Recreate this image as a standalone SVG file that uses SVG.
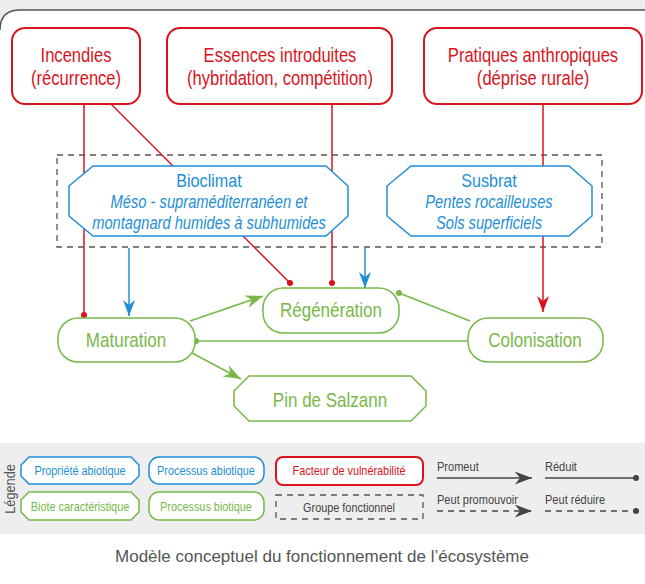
<svg xmlns="http://www.w3.org/2000/svg" width="645" height="584" viewBox="0 0 645 584">
<defs>
<style>
.t{font-family:"Liberation Sans",Arial,sans-serif;text-anchor:middle}
.s{text-anchor:start}
.red{fill:#fff;stroke:#d9141c;stroke-width:2}
.blue{fill:#fff;stroke:#1e8fd5;stroke-width:1.5}
.green{fill:#fff;stroke:#78b84a;stroke-width:1.5}
.tr{fill:#d9141c;font-size:19.5px}
.tb{fill:#1e8fd5}
.tg{fill:#78b84a;font-size:20px}
.tk{fill:#444}
.lr{stroke:#d9141c;stroke-width:1.5;fill:none}
.lb{stroke:#1e8fd5;stroke-width:1.5;fill:none}
.lg{stroke:#78b84a;stroke-width:1.5;fill:none}
.lk{stroke:#444;stroke-width:1.5;fill:none}
.dash{stroke-dasharray:6 5}
.leg{font-size:12.8px}
.leg2{font-size:13px}
</style>
<marker id="arR" viewBox="0 0 16 12" refX="16" refY="6" markerWidth="16" markerHeight="12" markerUnits="userSpaceOnUse" orient="auto"><path d="M0,0 L16,6 L0,12 L5,6 Z" fill="#d9141c"/></marker>
<marker id="arB" viewBox="0 0 16 12" refX="16" refY="6" markerWidth="16" markerHeight="12" markerUnits="userSpaceOnUse" orient="auto"><path d="M0,0 L16,6 L0,12 L5,6 Z" fill="#1e8fd5"/></marker>
<marker id="arG" viewBox="0 0 16 12" refX="16" refY="6" markerWidth="18" markerHeight="13" markerUnits="userSpaceOnUse" orient="auto"><path d="M0,0 L16,6 L0,12 L5,6 Z" fill="#78b84a"/></marker>
<marker id="arK" viewBox="0 0 16 12" refX="16" refY="6" markerWidth="18" markerHeight="13" markerUnits="userSpaceOnUse" orient="auto"><path d="M0,0 L16,6 L0,12 L5,6 Z" fill="#444"/></marker>
<marker id="dtR" viewBox="0 0 8 8" refX="4" refY="4" markerWidth="7" markerHeight="7" markerUnits="userSpaceOnUse"><circle cx="4" cy="4" r="3.5" fill="#d9141c"/></marker>
<marker id="dtG" viewBox="0 0 8 8" refX="4" refY="4" markerWidth="7" markerHeight="7" markerUnits="userSpaceOnUse"><circle cx="4" cy="4" r="3.5" fill="#78b84a"/></marker>
<marker id="dtK" viewBox="0 0 8 8" refX="4" refY="4" markerWidth="7" markerHeight="7" markerUnits="userSpaceOnUse"><circle cx="4" cy="4" r="3.5" fill="#444"/></marker>
</defs>
<rect x="0" y="0" width="645" height="584" fill="#ececec"/>
<path d="M0,584 V30 Q0,10 20,10 H645 V584 Z" fill="#fff"/>
<path d="M0,30 Q0,10 20,10 H645" fill="none" stroke="#555" stroke-width="1.5"/>

<rect id="groupe" x="57" y="155" width="545" height="92" fill="none" stroke="#555" stroke-width="1.3" stroke-dasharray="6 5"/>

<g id="connectors">
<path class="lr" d="M84,104 V315" marker-end="url(#dtR)"/>
<path class="lr" d="M111,104 L290,283" marker-end="url(#dtR)"/>
<path class="lr" d="M332,104 V283" marker-end="url(#dtR)"/>
<path class="lr" d="M543,104 V312" marker-end="url(#arR)"/>
<path class="lb" d="M129,248 V316" marker-end="url(#arB)"/>
<path class="lb" d="M365,248 V288" marker-end="url(#arB)"/>
<path class="lg" d="M190,321 L263,296" marker-end="url(#arG)"/>
<path class="lg" d="M192,353 L241,379" marker-end="url(#arG)"/>
<path class="lg" d="M470,321 L399,293" marker-end="url(#dtG)"/>
<path class="lg" d="M470,341 H196" marker-end="url(#dtG)"/>
</g>

<g id="incendies">
<rect class="red" x="12" y="28" width="128" height="76" rx="13"/>
<text class="t tr" transform="translate(76,62) scale(0.85,1)">Incendies</text>
<text class="t tr" transform="translate(76,85) scale(0.85,1)">(récurrence)</text>
</g>
<g id="essences">
<rect class="red" x="167" y="28" width="225" height="76" rx="13"/>
<text class="t tr" transform="translate(280,62) scale(0.85,1)">Essences introduites</text>
<text class="t tr" transform="translate(280,85) scale(0.85,1)">(hybridation, compétition)</text>
</g>
<g id="pratiques">
<rect class="red" x="424" y="28" width="218" height="76" rx="13"/>
<text class="t tr" transform="translate(533,62) scale(0.85,1)">Pratiques anthropiques</text>
<text class="t tr" transform="translate(533,85) scale(0.85,1)">(déprise rurale)</text>
</g>

<g id="bioclimat">
<polygon class="blue" points="93,166 326,166 348,186 348,216 326,236 93,236 69,216 69,186"/>
<text class="t tb" font-size="19" transform="translate(209,187) scale(0.85,1)">Bioclimat</text>
<text class="t tb" font-size="17.5" font-style="italic" transform="translate(209,208) scale(0.84,1)">Méso - supraméditerranéen et</text>
<text class="t tb" font-size="17.5" font-style="italic" transform="translate(209,229) scale(0.84,1)">montagnard humides à subhumides</text>
</g>
<g id="susbrat">
<polygon class="blue" points="411,166 569,166 592,186 592,216 569,236 411,236 387,216 387,186"/>
<text class="t tb" font-size="19" transform="translate(489,187) scale(0.85,1)">Susbrat</text>
<text class="t tb" font-size="17.5" font-style="italic" transform="translate(489,208) scale(0.84,1)">Pentes rocailleuses</text>
<text class="t tb" font-size="17.5" font-style="italic" transform="translate(489,229) scale(0.84,1)">Sols superficiels</text>
</g>

<g id="maturation">
<rect class="green" x="58" y="318" width="137" height="44" rx="20"/>
<text class="t tg" transform="translate(126,347) scale(0.85,1)">Maturation</text>
</g>
<g id="regeneration">
<rect class="green" x="263" y="288" width="136" height="45" rx="20"/>
<text class="t tg" transform="translate(331,317) scale(0.85,1)">Régénération</text>
</g>
<g id="colonisation">
<rect class="green" x="468" y="318" width="135" height="44" rx="20"/>
<text class="t tg" transform="translate(535,347) scale(0.85,1)">Colonisation</text>
</g>
<g id="pin">
<polygon class="green" points="249,376 411,376 426,391 426,406 411,421 249,421 234,406 234,391"/>
<text class="t tg" transform="translate(330,407) scale(0.85,1)">Pin de Salzann</text>
</g>

<g id="legende">
<rect x="0" y="443" width="645" height="91" fill="#eeeeee"/>
<text class="t" font-size="15" fill="#555" transform="translate(15,489) rotate(-90) scale(0.85,1)">Légende</text>
<g id="leg-propriete">
<polygon class="blue" points="29,457 131,457 139,465 139,476 131,484 29,484 21,476 21,465"/>
<text class="t tb leg" transform="translate(80,475) scale(0.85,1)">Propriété abiotique</text>
</g>
<g id="leg-processus-abiotique">
<rect class="blue" x="149" y="457" width="115" height="27" rx="10"/>
<text class="t tb leg" transform="translate(206,475) scale(0.85,1)">Processus abiotique</text>
</g>
<g id="leg-facteur">
<rect class="red" x="276" y="457" width="147" height="28" rx="7"/>
<text class="t leg" fill="#d9141c" transform="translate(349,475) scale(0.85,1)">Facteur de vulnérabilité</text>
</g>
<g id="leg-biote">
<polygon class="green" points="29,492 131,492 139,500 139,512 131,520 29,520 21,512 21,500"/>
<text class="t leg" fill="#78b84a" transform="translate(80,511) scale(0.85,1)">Biote caractéristique</text>
</g>
<g id="leg-processus-biotique">
<rect class="green" x="149" y="492" width="115" height="28" rx="10"/>
<text class="t leg" fill="#78b84a" transform="translate(206,511) scale(0.85,1)">Processus biotique</text>
</g>
<g id="leg-groupe">
<rect x="276" y="495" width="147" height="24" fill="none" stroke="#555" stroke-width="1.3" stroke-dasharray="6 5"/>
<text class="t leg tk" transform="translate(349,512) scale(0.85,1)">Groupe fonctionnel</text>
</g>
<g id="leg-lines">
<text class="t s leg2 tk" transform="translate(437,471) scale(0.85,1)">Promeut</text>
<path class="lk" d="M437,478 H532" marker-end="url(#arK)"/>
<text class="t s leg2 tk" transform="translate(545,471) scale(0.85,1)">Réduit</text>
<path class="lk" d="M545,478 H636" marker-end="url(#dtK)"/>
<text class="t s leg2 tk" transform="translate(437,504) scale(0.85,1)">Peut promouvoir</text>
<path class="lk dash" d="M437,511 H532" marker-end="url(#arK)"/>
<text class="t s leg2 tk" transform="translate(545,504) scale(0.85,1)">Peut réduire</text>
<path class="lk dash" d="M545,511 H636" marker-end="url(#dtK)"/>
</g>
</g>

<text x="322" y="562" font-family="'Liberation Sans',sans-serif" font-size="17" fill="#555" text-anchor="middle">Modèle conceptuel du fonctionnement de l’écosystème</text>
</svg>
